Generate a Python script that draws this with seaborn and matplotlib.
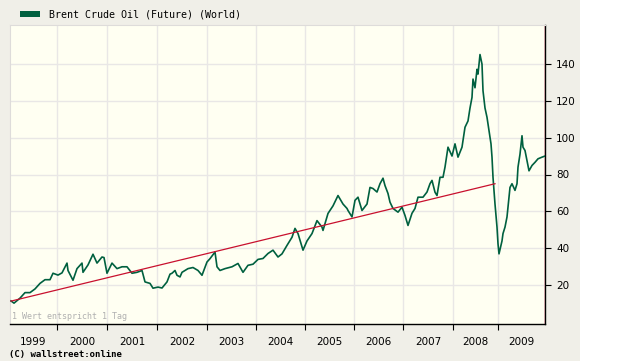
import matplotlib
matplotlib.use("Agg")
import pandas as pd
import matplotlib.pyplot as plt
import seaborn as sns
from matplotlib.patches import Rectangle

# =========================================
# Data (x = trading day index)
# =========================================
day = [5, 20, 50, 75, 100, 125, 150, 175, 200, 215, 240, 260, 285, 290, 315,
       335, 360, 365, 390, 415, 435, 460, 470, 485, 510, 535, 560, 585, 610,
       635, 660, 675, 700, 715, 740, 760, 785, 800, 810, 825, 835, 850, 860,
       890, 915, 940, 960, 985, 1000, 1025, 1035, 1050, 1075, 1110, 1140, 1165,
       1190, 1215, 1240, 1265, 1290, 1315, 1340, 1360, 1385, 1410, 1425, 1440,
       1465, 1485, 1510, 1535, 1560, 1565, 1590, 1615, 1640, 1665, 1685, 1690,
       1710, 1725, 1740, 1760, 1785, 1800, 1815, 1835, 1850, 1865, 1875, 1890,
       1900, 1915, 1940, 1960, 1975, 1990, 2010, 2025, 2040, 2065, 2085, 2100,
       2110, 2125, 2135, 2150, 2165, 2175, 2185, 2190, 2210, 2225, 2240, 2260,
       2275, 2290, 2300, 2310, 2315, 2325, 2335, 2340, 2350, 2360, 2365, 2375,
       2385, 2395, 2405, 2410, 2415, 2425, 2435, 2440, 2445, 2460, 2465, 2475,
       2485, 2490, 2500, 2510, 2525, 2535, 2540, 2550, 2560, 2565, 2575, 2585,
       2595, 2610, 2625, 2640, 2660, 2675]
price = [11.5, 10.3, 13.0, 16.0, 16.0, 18.0, 21.0, 23.0, 23.0, 26.5, 25.5,
         26.7, 32.0, 28.0, 22.7, 29.0, 32.0, 27.0, 31.0, 36.8, 32.0, 35.3,
         35.0, 26.5, 32.0, 29.0, 30.0, 30.0, 26.5, 27.0, 28.0, 21.8, 21.0,
         18.4, 19.0, 18.5, 21.8, 26.0, 26.5, 28.0, 25.4, 24.5, 27.0, 29.0,
         29.6, 28.0, 25.4, 32.6, 34.4, 38.0, 30.0, 28.0, 29.0, 30.0, 31.8,
         27.0, 30.8, 31.4, 34.0, 34.5, 37.2, 39.0, 35.3, 37.0, 41.6, 46.0,
         50.8, 48.0, 39.0, 44.0, 48.0, 55.0, 51.5, 49.7, 58.9, 63.0, 68.6,
         64.0, 61.6, 60.5, 57.0, 66.0, 67.7, 60.5, 64.0, 73.0, 72.4, 70.5,
         75.0, 78.0, 74.0, 69.7, 65.0, 61.6, 59.6, 62.3, 57.8, 52.4, 59.0,
         61.6, 67.7, 67.7, 70.5, 75.0, 76.8, 70.4, 68.6, 78.5, 78.5, 84.0,
         91.0, 94.8, 90.0, 96.6, 89.4, 94.8, 105.6, 109.0, 116.0, 121.8, 131.7,
         127.0, 137.0, 134.4, 145.0, 139.8, 125.4, 116.0, 111.0, 103.8, 96.6,
         89.4, 78.5, 64.0, 51.5, 42.5, 37.0, 44.0, 48.0, 51.5, 57.0, 62.3,
         73.0, 75.0, 71.4, 75.0, 84.0, 91.0, 101.0, 94.8, 93.0, 87.6, 82.0,
         84.9, 86.6, 88.5, 89.4, 90.0]

trend_day = [5, 2425]
trend_price = [11.4, 75.0]

year_start = [235, 485, 735, 985, 1230, 1475, 1720, 1965, 2215, 2440]
year_labels = ["1999", "2000", "2001", "2002", "2003", "2004", "2005",
               "2006", "2007", "2008", "2009"]
y_ticks = [20, 40, 60, 80, 100, 120, 140]

df = pd.DataFrame({"day": day, "price": price})

# =========================================
# Figure
# =========================================
fig = plt.figure(figsize=(6.18, 3.61), dpi=100)
fig.patch.set_facecolor("white")
fig.add_artist(Rectangle((0, 0), 580 / 618, 1, transform=fig.transFigure,
                         facecolor="#f0efe8", edgecolor="none", zorder=-5))

ax = fig.add_axes([10 / 618, 1 - 324 / 361, 535 / 618, 299 / 361])
ax.set_facecolor("#fffff2")

sns.lineplot(data=df, x="day", y="price", ax=ax, color="#00603f", lw=1.2,
             zorder=3)
ax.plot(trend_day, trend_price, color="#c8102e", lw=0.9, zorder=4)
ax.axvline(2668, color="#f8c0c6", lw=0.6, zorder=2)

ax.set_xlim(0, 2675)
ax.set_ylim(-1, 161)

# x axis: ticks at year starts, labels centred in each year
bounds = [0] + year_start + [2675]
centres = [(a + b) / 2 for a, b in zip(bounds[:-1], bounds[1:])]
ax.set_xticks(year_start)
ax.set_xticklabels([])
ax.set_xticks(centres, minor=True)
ax.set_xticklabels(year_labels, minor=True, fontsize=7.5)
ax.tick_params(axis="x", which="major", direction="out", length=4,
               width=0.8, color="black")
ax.tick_params(axis="x", which="minor", length=0, pad=9.3)

ax.yaxis.tick_right()
ax.set_yticks(y_ticks)
ax.set_yticklabels([str(v) for v in y_ticks], fontsize=7.5)
ax.tick_params(axis="y", direction="out", length=4, width=0.8,
               color="black", pad=4)

ax.grid(True, which="major", color="#e9e7e6", lw=1)
ax.set_axisbelow(True)
ax.set_xlabel("")
ax.set_ylabel("")

for s in ["left", "top"]:
    ax.spines[s].set_color("#dedcda")
    ax.spines[s].set_linewidth(0.8)
for s in ["right", "bottom"]:
    ax.spines[s].set_color("black")
    ax.spines[s].set_linewidth(1)

# legend and notes
fig.add_artist(Rectangle((20 / 618, 1 - 16.7 / 361), 20 / 618, 5.7 / 361,
                         transform=fig.transFigure, facecolor="#00603f",
                         edgecolor="none"))
fig.text(49 / 618, 1 - 14.3 / 361, "Brent Crude Oil (Future) (World)",
         family="DejaVu Sans Mono", fontsize=7.2, va="center", ha="left")
ax.text(0.003, 0.01, "1 Wert entspricht 1 Tag", transform=ax.transAxes,
        family="DejaVu Sans Mono", fontsize=6, color="#b0b0b0",
        ha="left", va="bottom")
fig.text(9 / 618, 1 - 354 / 361, "(C) wallstreet:online",
         family="DejaVu Sans Mono", fontsize=6.5, fontweight="bold",
         va="center", ha="left")

fig.savefig("out.png", dpi=100, facecolor=fig.get_facecolor())
